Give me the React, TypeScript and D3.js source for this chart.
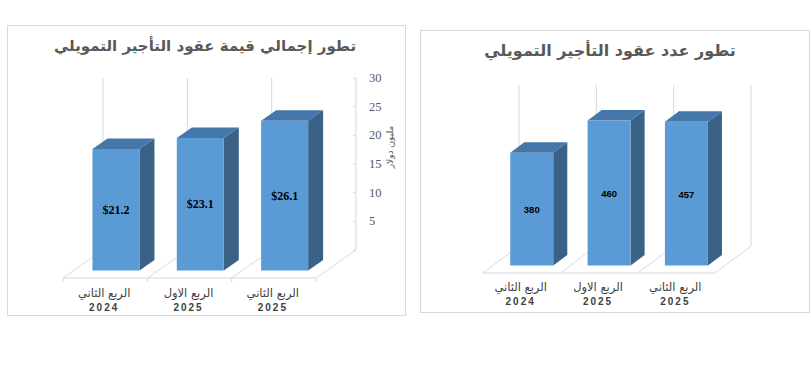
import React from 'react';
import * as d3 from 'd3';

// chart data
const quarterLabels = ['الربع الثاني', 'الربع الاول', 'الربع الثاني'];
const yearLabels = ['2024', '2025', '2025'];
const contractValues = [21.2, 23.1, 26.1]; // million USD
const contractCounts = [380, 460, 457];
const valueTicks = [0, 5, 10, 15, 20, 25, 30];

const valueTitle = 'تطور إجمالي قيمة عقود التأجير التمويلي';
const countTitle = 'تطور عدد عقود التأجير التمويلي';
const valueAxisTitle = 'مليون دولار';

const FRONT = '#5B9BD5';
const TOP = '#4677AA';
const SIDE = '#3A6186';
const GRID = '#D9D9D9';
const ARABIC_FONT = '"DejaVu Sans", sans-serif';

interface ChartProps {
  title: string;
  titleX: number;
  titleY: number;
  titleSize: number;
  frame: { x: number; y: number; w: number; h: number };
  floor: { x0: number; x1: number; y: number; dx: number; dy: number };
  domain: [number, number];
  plotHeight: number;
  values: number[];
  format: (v: number) => string;
  labelStyle: React.SVGProps<SVGTextElement>;
  barDepth: [number, number];
  barWidth: number;
  catY: [number, number];
  ticks?: number[];
  floorTicks?: boolean;
}

function Bar3DChart(p: ChartProps) {
  const { floor } = p;
  const x = d3.scaleBand<number>()
    .domain(d3.range(p.values.length))
    .range([floor.x0, floor.x1]);
  const h = d3.scaleLinear().domain(p.domain).range([0, p.plotHeight]);

  // project a point on the front plane (xf, value height) to depth t
  const pt = (xf: number, hv: number, t: number) =>
    [xf + t * floor.dx, floor.y + t * floor.dy - hv] as [number, number];
  const poly = (pts: [number, number][]) => pts.map(q => q.join(',')).join(' ');

  const bounds = d3.range(p.values.length + 1).map(i => floor.x0 + i * x.bandwidth());
  const top = p.plotHeight;
  const [t0, t1] = p.barDepth;

  return (
    <g>
      <rect x={p.frame.x} y={p.frame.y} width={p.frame.w} height={p.frame.h} fill="#fff" stroke={GRID} strokeWidth={1} />
      <text x={p.titleX} y={p.titleY} textAnchor="middle" fontFamily={ARABIC_FONT} fontWeight="bold"
        fontSize={p.titleSize} fill="#595959" direction="rtl">{p.title}</text>

      {/* back wall gridlines */}
      {bounds.map((b, i) => {
        const [xa, ya] = pt(b, 0, 1);
        const [, yb] = pt(b, top, 1);
        return <line key={'g' + i} x1={xa} y1={ya} x2={xa} y2={yb} stroke={GRID} strokeWidth={1} />;
      })}

      {/* floor */}
      <line x1={floor.x0} y1={floor.y} x2={floor.x1} y2={floor.y} stroke={GRID} strokeWidth={1} />
      {bounds.map((b, i) => {
        const [xa, ya] = pt(b, 0, 0);
        const [xb, yb] = pt(b, 0, 1);
        return (
          <g key={'f' + i}>
            <line x1={xa} y1={ya} x2={xb} y2={yb} stroke={GRID} strokeWidth={1} />
            {p.floorTicks && <line x1={xa} y1={ya} x2={xa} y2={ya + 4} stroke={GRID} strokeWidth={1} />}
          </g>
        );
      })}

      {/* value axis on the back right edge */}
      {p.ticks && p.ticks.map(v => {
        const [xa, ya] = pt(floor.x1, h(v), 1);
        return (
          <g key={'t' + v}>
            <line x1={xa - 3} y1={ya} x2={xa} y2={ya} stroke={GRID} strokeWidth={1} />
            {v > 0 && (
              <text x={xa + 13} y={ya + 4} fontFamily='"Liberation Serif", serif' fontSize={12.5} fill="#595959">{v}</text>
            )}
          </g>
        );
      })}

      {/* bars */}
      {p.values.map((v, i) => {
        const xl = (x(i) as number) + (x.bandwidth() - p.barWidth) / 2;
        const xr = xl + p.barWidth;
        const hv = h(v);
        const fl = pt(xl, 0, t0), fr = pt(xr, 0, t0);
        const tl = pt(xl, hv, t0), tr = pt(xr, hv, t0);
        const bl = pt(xl, hv, t1), br = pt(xr, hv, t1);
        const sb = pt(xr, 0, t1);
        return (
          <g key={'b' + i}>
            <polygon points={poly([fr, tr, br, sb])} fill={SIDE} />
            <polygon points={poly([tl, tr, br, bl])} fill={TOP} />
            <polygon points={poly([fl, fr, tr, tl])} fill={FRONT} />
            <text x={(tl[0] + tr[0]) / 2} y={(tl[1] + fl[1]) / 2 + 4} textAnchor="middle" {...p.labelStyle}>
              {p.format(v)}
            </text>
          </g>
        );
      })}

      {/* category labels */}
      {quarterLabels.map((q, i) => {
        const cx = (x(i) as number) + x.bandwidth() / 2 - 1;
        return (
          <g key={'c' + i}>
            <text x={cx} y={p.catY[0]} textAnchor="middle" fontFamily={ARABIC_FONT} fontSize={11.5}
              fill="#404040" direction="rtl">{q}</text>
            <text x={cx} y={p.catY[1]} textAnchor="middle" fontFamily='"Liberation Sans", Arial, sans-serif'
              fontWeight="bold" fontSize={10} letterSpacing={2} fill="#404040">{yearLabels[i]}</text>
          </g>
        );
      })}
    </g>
  );
}

export default function App() {
  return (
    <svg width={811} height={371} style={{ position: 'absolute', left: 0, top: 0, display: 'block' }}>
      <rect width={811} height={371} fill="#fff" />
      <Bar3DChart
        title={valueTitle}
        titleX={205}
        titleY={51}
        titleSize={15}
        frame={{ x: 7.5, y: 25.5, w: 398, h: 290 }}
        floor={{ x0: 63, x1: 316, y: 278, dx: 40, dy: -28 }}
        domain={[0, 30]}
        plotHeight={172}
        values={contractValues}
        format={v => '$' + v.toFixed(1)}
        labelStyle={{ fontFamily: '"Liberation Serif", serif', fontWeight: 'bold', fontSize: 12, fill: '#000' }}
        barDepth={[0.27, 0.645]}
        barWidth={47}
        catY={[297, 311]}
        ticks={valueTicks}
        floorTicks
      />
      <text transform="translate(393,147) rotate(-90)" textAnchor="middle" fontFamily={ARABIC_FONT}
        fontSize={9} fill="#595959" direction="rtl">{valueAxisTitle}</text>
      <Bar3DChart
        title={countTitle}
        titleX={610}
        titleY={56}
        titleSize={16}
        frame={{ x: 420.5, y: 30.5, w: 389, h: 282 }}
        floor={{ x0: 483, x1: 715, y: 273, dx: 36, dy: -27 }}
        domain={[100, 500]}
        plotHeight={161}
        values={contractCounts}
        format={v => String(v)}
        labelStyle={{ fontFamily: '"Liberation Sans", Arial, sans-serif', fontWeight: 'bold', fontSize: 9.5, fill: '#000' }}
        barDepth={[0.28, 0.67]}
        barWidth={43}
        catY={[291, 305]}
      />
    </svg>
  );
}
